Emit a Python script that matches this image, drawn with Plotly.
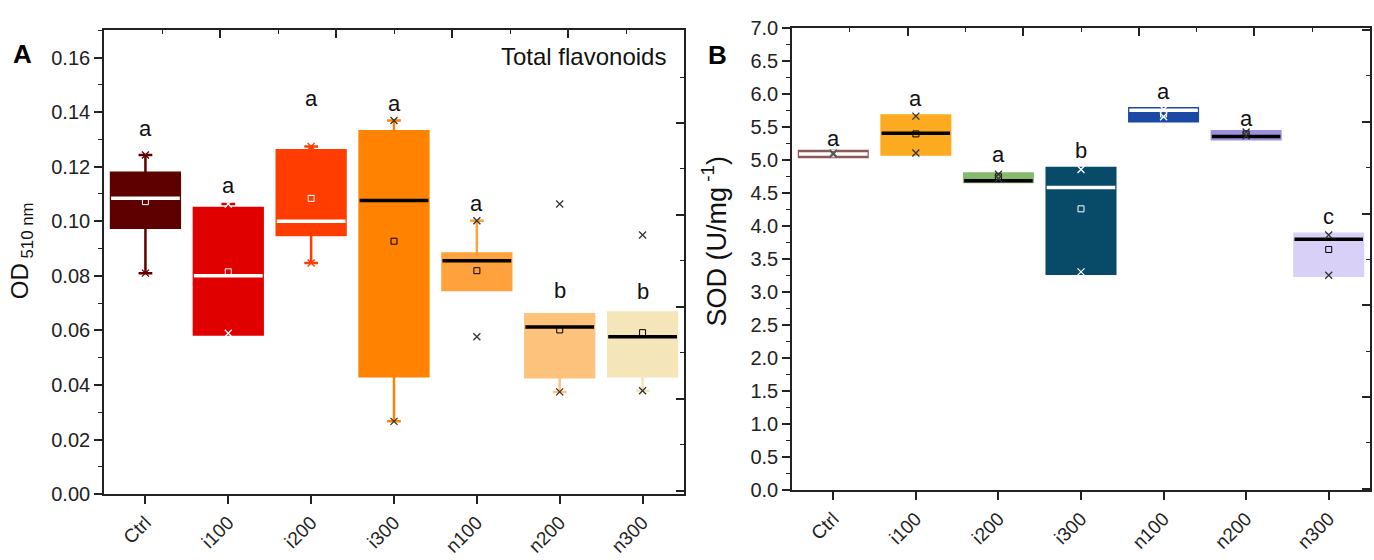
import plotly.graph_objects as go

# ---------------- data ----------------
categories = ["Ctrl", "i100", "i200", "i300", "n100", "n200", "n300"]

# Panel A: total flavonoids (OD 510 nm)
a_q1 = [0.0976, 0.0585, 0.0950, 0.0432, 0.0748, 0.0429, 0.0432]
a_median = [0.1084, 0.0800, 0.1000, 0.1076, 0.0855, 0.0613, 0.0577]
a_q3 = [0.1178, 0.1049, 0.1260, 0.1330, 0.0882, 0.0659, 0.0666]
a_lower = [0.0810, 0.0585, 0.0847, 0.0267, 0.0748, 0.0375, 0.0379]
a_upper = [0.1243, 0.1063, 0.1274, 0.1369, 0.1002, 0.0659, 0.0666]
a_mean = [0.1072, 0.0815, 0.1084, 0.0927, 0.0819, 0.0602, 0.0592]
a_min = [0.0810, 0.0590, 0.0847, 0.0267, 0.0577, 0.0375, 0.0379]
a_max = [0.1243, 0.1063, 0.1274, 0.1369, 0.1002, 0.1063, 0.0950]
a_letters = ["a", "a", "a", "a", "a", "b", "b"]
a_letter_y = [0.1340, 0.1130, 0.1448, 0.1430, 0.1066, 0.0745, 0.0743]

# Panel B: SOD (U/mg-1)
b_q1 = [5.05, 5.09, 4.67, 3.28, 5.59, 5.32, 3.25]
b_median = [5.095, 5.41, 4.69, 4.59, 5.76, 5.36, 3.805]
b_q3 = [5.14, 5.68, 4.80, 4.885, 5.79, 5.44, 3.886]
b_mean = [5.10, 5.40, 4.75, 4.265, 5.70, 5.40, 3.649]
b_min = [5.09, 5.11, 4.72, 3.31, 5.66, 5.37, 3.26]
b_max = [5.11, 5.67, 4.79, 4.86, 5.77, 5.43, 3.87]
b_letters = ["a", "a", "a", "b", "a", "a", "c"]
b_letter_y = [5.33, 5.94, 5.09, 5.15, 6.04, 5.63, 4.15]

# ---------------- styles ----------------
a_fill = ["#5e0000", "#e10000", "#ff3d00", "#ff8200", "#ffa23e", "#fdc37c", "#f4e6b8"]
a_medcol = ["#ffffff", "#ffffff", "#ffffff", "#000000", "#000000", "#000000", "#000000"]
a_markcol = ["#5e0000", "#ffffff", "#ff3d00", "#333333", "#333333", "#333333", "#333333"]
b_fill = ["#8c5a5a", "#fcaa1f", "#86b96c", "#074b69", "#1b4aa6", "#9d90df", "#d8d0f6"]
b_medcol = ["#ffffff", "#000000", "#000000", "#ffffff", "#ffffff", "#000000", "#000000"]
b_markcol = ["#555555", "#333333", "#333333", "#ffffff", "#ffffff", "#333333", "#333333"]

BOXW = 0.83
FONT = "Arial, Liberation Sans, sans-serif"

fig = go.Figure()


def add_panel(xa, ya, q1, med, q3, lo, hi, mean, mn, mx, fill, medc, markc):
    n = len(categories)
    for i in range(n):
        fig.add_trace(go.Box(
            x=[i], q1=[q1[i]], median=[med[i]], q3=[q3[i]],
            lowerfence=[lo[i]], upperfence=[hi[i]],
            width=BOXW, whiskerwidth=0.2,
            fillcolor=fill[i], line=dict(color=fill[i], width=2.5),
            boxpoints=False, xaxis=xa, yaxis=ya, showlegend=False,
            hoverinfo="skip"))
    for i in range(n):
        fig.add_trace(go.Scatter(
            x=[i - BOXW / 2, i + BOXW / 2], y=[med[i], med[i]],
            mode="lines", line=dict(color=medc[i], width=3.5),
            xaxis=xa, yaxis=ya, showlegend=False, hoverinfo="skip"))
    xs = list(range(n))
    fig.add_trace(go.Scatter(
        x=xs, y=mean, mode="markers",
        marker=dict(symbol="square-open", size=6, color=medc, line=dict(width=1)),
        xaxis=xa, yaxis=ya, showlegend=False, hoverinfo="skip"))
    fig.add_trace(go.Scatter(
        x=xs + xs, y=mn + mx, mode="markers",
        marker=dict(symbol="x-thin-open", size=7, color=markc + markc,
                    line=dict(width=1.3, color=markc + markc)),
        xaxis=xa, yaxis=ya, showlegend=False, hoverinfo="skip"))


add_panel("x", "y", a_q1, a_median, a_q3, a_lower, a_upper, a_mean,
          a_min, a_max, a_fill, a_medcol, a_markcol)
add_panel("x2", "y2", b_q1, b_median, b_q3, b_q1, b_q3, b_mean,
          b_min, b_max, b_fill, b_medcol, b_markcol)

# dummy traces so decorative top/right axes are drawn
fig.add_trace(go.Scatter(x=[None], y=[None], xaxis="x3", yaxis="y3", showlegend=False))
fig.add_trace(go.Scatter(x=[None], y=[None], xaxis="x4", yaxis="y4", showlegend=False))

W, H = 1374, 560
ax_l = [104 / W, 684 / W]
ay_l = [1 - 503 / H, 1 - 20 / H]
ax_r = [792 / W, 1370 / W]
ay_r = [1 - 499 / H, 1 - 18 / H]

common_x = dict(
    range=[-0.5, 6.5], tickvals=list(range(len(categories))), ticktext=categories,
    tickangle=-45, ticks="outside", ticklen=8, tickwidth=1.5, tickcolor="#222",
    showline=True, linecolor="#222", linewidth=1.6, showgrid=False, zeroline=False,
    tickfont=dict(family=FONT, size=19, color="#222"))
common_y = dict(
    ticks="outside", ticklen=8, tickwidth=1.5, tickcolor="#222",
    showline=True, linecolor="#222", linewidth=1.6, showgrid=False, zeroline=False,
    tickfont=dict(family=FONT, size=20, color="#222"))
deco = dict(range=[0, 5], dtick=1, ticks="inside", ticklen=8, tickwidth=1.5,
            tickcolor="#222", showline=True, linecolor="#222", linewidth=1.6,
            showticklabels=False, showgrid=False, zeroline=False,
            minor=dict(dtick=0.5, ticklen=4, ticks="inside", tickcolor="#222", tickwidth=1.3))

fig.update_layout(
    width=W, height=H, margin=dict(l=0, r=0, t=0, b=0),
    paper_bgcolor="white", plot_bgcolor="white", showlegend=False,
    xaxis=dict(domain=ax_l, anchor="y", **common_x),
    yaxis=dict(domain=ay_l, anchor="x", range=[0, 0.170], dtick=0.02, tickformat=".2f",
               minor=dict(dtick=0.01, ticklen=4, ticks="outside", tickcolor="#222", tickwidth=1.3),
               **common_y),
    xaxis2=dict(domain=ax_r, anchor="y2", **common_x),
    yaxis2=dict(domain=ay_r, anchor="x2", range=[0, 7.0], dtick=0.5, tickformat=".1f",
                minor=dict(dtick=0.25, ticklen=4, ticks="outside", tickcolor="#222", tickwidth=1.3),
                **common_y),
    xaxis3=dict(overlaying="x", side="top", anchor="y", **deco),
    yaxis3=dict(overlaying="y", side="right", anchor="x", **{**deco, "range": [-0.04, 5.01]}),
    xaxis4=dict(overlaying="x2", side="top", anchor="y2", **deco),
    yaxis4=dict(overlaying="y2", side="right", anchor="x2", **{**deco, "range": [-0.02, 5.02]}),
)

ann = []
for i, (t, yv) in enumerate(zip(a_letters, a_letter_y)):
    ann.append(dict(x=i, y=yv, xref="x", yref="y", text=t, showarrow=False,
                    xanchor="center", yanchor="middle",
                    font=dict(family=FONT, size=22, color="#111")))
for i, (t, yv) in enumerate(zip(b_letters, b_letter_y)):
    ann.append(dict(x=i, y=yv, xref="x2", yref="y2", text=t, showarrow=False,
                    xanchor="center", yanchor="middle",
                    font=dict(family=FONT, size=22, color="#111")))
ann += [
    dict(x=668 / W, y=1 - 47 / H, xref="paper", yref="paper", text="Total flavonoids",
         xanchor="right", yanchor="middle", showarrow=False,
         font=dict(family=FONT, size=24, color="#111")),
    dict(x=22 / W, y=1 - 45 / H, xref="paper", yref="paper", text="<b>A</b>",
         xanchor="center", yanchor="middle",
         showarrow=False, font=dict(family=FONT, size=26, color="#000")),
    dict(x=717 / W, y=1 - 46 / H, xref="paper", yref="paper", text="<b>B</b>",
         xanchor="center", yanchor="middle",
         showarrow=False, font=dict(family=FONT, size=26, color="#000")),
    dict(x=21 / W, y=1 - 250 / H, xref="paper", yref="paper", text="OD<sub> 510 nm</sub>",
         xanchor="center", yanchor="middle",
         textangle=-90, showarrow=False, font=dict(family=FONT, size=24, color="#111")),
    dict(x=714 / W, y=1 - 240 / H, xref="paper", yref="paper", text="SOD (U/mg<sup> -1</sup>)",
         xanchor="center", yanchor="middle",
         textangle=-90, showarrow=False, font=dict(family=FONT, size=27, color="#111")),
]
fig.update_layout(annotations=ann)

fig.write_html("out.html", config={"displayModeBar": False},
               post_script="document.body.style.margin='0px';document.body.style.overflow='hidden';")
